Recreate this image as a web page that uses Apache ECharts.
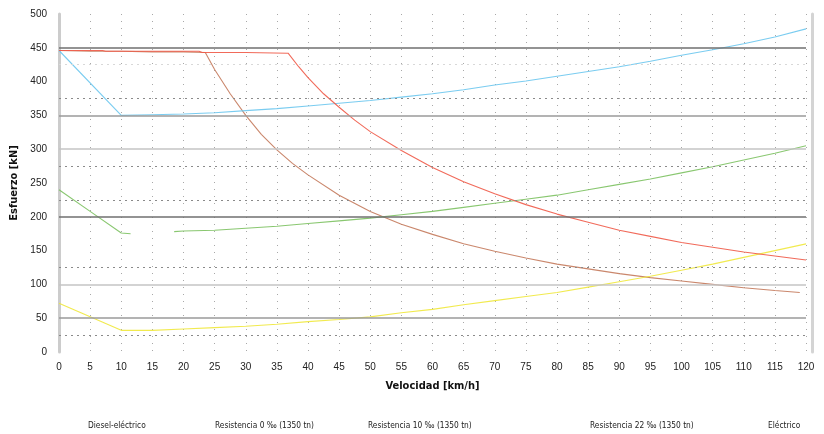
<!DOCTYPE html>
<html>
<head>
<meta charset="utf-8">
<script src="https://cdn.jsdelivr.net/npm/echarts@6/dist/echarts.min.js"></script>
<style>html,body{margin:0;padding:0;background:#fff}#c{width:824px;height:434px}</style>
</head>
<body>
<div id="c"></div>
<script>
// Data: [velocidad km/h, esfuerzo kN]
const seriesNames = ['Diesel-eléctrico', 'Resistencia 0 ‰ (1350 tn)', 'Resistencia 10 ‰ (1350 tn)', 'Resistencia 22 ‰ (1350 tn)', 'Eléctrico'];

const dieselElectrico = [[0,446],[5,445],[10,445],[15,444],[20,444],[23.5,443],[25,418],[27.5,382],[30,350],[32.5,322],[35,299],[37.5,279],[40,262],[45,232],[50,208],[55,189],[60,174],[65,160],[70,149],[75,139],[80,130],[85,123],[90,116],[95,110],[100,105],[105,100],[110,95],[115,91],[119,88]];
const resistencia0 = [[0,72],[5,52],[10,32],[15,32],[20,34],[25,36],[30,38],[35,41],[40,45],[45,48],[50,52],[55,58],[60,63],[65,70],[70,76],[75,82],[80,88],[85,96],[90,104],[95,112],[100,121],[105,130],[110,140],[115,150],[120,160]];
const resistencia10 = [[0,240],[5,208],[10,176],[11.5,175],[15,'-'],[18.5,178],[20,179],[25,180],[30,183],[35,186],[40,190],[45,194],[50,198],[55,203],[60,208],[65,214],[70,220],[75,226],[80,232],[85,240],[90,248],[95,256],[100,265],[105,274],[110,284],[115,294],[120,305]];
const resistencia22 = [[0,446],[10,350],[15,351],[20,352],[25,354],[30,357],[35,360],[40,364],[45,368],[50,372],[55,377],[60,382],[65,388],[70,395],[75,401],[80,408],[85,415],[90,422],[95,430],[100,439],[105,447],[110,456],[115,466],[120,478]];
const electrico = [[0,446],[7,446],[7.5,445],[22.5,445],[23,443],[30,443],[36.8,442],[38.5,422],[40,406],[42.5,382],[45,362],[47.5,343],[50,326],[55,298],[60,273],[65,252],[70,234],[75,218],[80,204],[85,192],[90,180],[95,171],[100,162],[105,155],[110,148],[115,142],[120,136]];

const yTicks = [0,50,100,150,200,250,300,350,400,450,500];
const xTicks = [0,5,10,15,20,25,30,35,40,45,50,55,60,65,70,75,80,85,90,95,100,105,110,115,120];
const solidGrid = [450,350,300,200,100,50];
const dottedGrid = [425,375,275,225,125,25];

const colors = {
  'Diesel-eléctrico': '#c47a5c',
  'Resistencia 0 ‰ (1350 tn)': '#efe83c',
  'Resistencia 10 ‰ (1350 tn)': '#7cc160',
  'Resistencia 22 ‰ (1350 tn)': '#6cc6ee',
  'Eléctrico': '#f05a48'
};
const dataByName = {
  'Diesel-eléctrico': dieselElectrico,
  'Resistencia 0 ‰ (1350 tn)': resistencia0,
  'Resistencia 10 ‰ (1350 tn)': resistencia10,
  'Resistencia 22 ‰ (1350 tn)': resistencia22,
  'Eléctrico': electrico
};

const solidStyles = {450:'#6f6f6f',350:'#9a9a9a',300:'#c4c4c4',200:'#6f6f6f',100:'#c4c4c4',50:'#9a9a9a'};
const gridLines = [];
solidGrid.forEach(v => gridLines.push({yAxis: v, lineStyle: {color: solidStyles[v], width: 1.6, type: 'solid'}}));
dottedGrid.forEach(v => gridLines.push({yAxis: v, lineStyle: {color: v === 425 ? '#d8d8d8' : '#8a8a8a', width: 1.2, type: [2, 4]}}));

const fontNarrow = "'Liberation Sans Narrow', 'DejaVu Sans Condensed', 'Liberation Sans', sans-serif";
const legendLeft = [78, 205, 358, 580, 758];

const chart = echarts.init(document.getElementById('c'), null, {renderer: 'canvas'});
const series = [{
  type: 'line', data: [], silent: true, z: 1,
  markLine: {silent: true, symbol: ['none','none'], label: {show: false}, animation: false, data: gridLines}
}];
seriesNames.forEach(n => series.push({
  name: n, type: 'line', data: dataByName[n], showSymbol: false, symbol: 'none', z: 3,
  connectNulls: false,
  lineStyle: {color: colors[n], width: 1.1, opacity: 0.9},
  itemStyle: {color: colors[n]}
}));
// Eléctrico drawn over diesel on the shared flat part
series.sort((a, b) => (a.name === 'Eléctrico') - (b.name === 'Eléctrico'));

chart.setOption({
  animation: false,
  grid: {left: 59, right: 18, top: 14, bottom: 82, containLabel: false},
  legend: seriesNames.map((n, i) => ({
    data: [n], left: legendLeft[i], top: 417, itemWidth: 0, itemHeight: 0, icon: 'rect',
    selectedMode: false,
    textStyle: {fontSize: 8.3, color: '#222', fontFamily: fontNarrow}
  })),
  xAxis: {
    type: 'value', min: 0, max: 120, interval: 5,
    name: 'Velocidad [km/h]', nameLocation: 'middle', nameGap: 29,
    nameTextStyle: {fontWeight: 'bold', fontSize: 11, color: '#111', fontFamily: fontNarrow},
    axisLine: {show: false}, axisTick: {show: false},
    axisLabel: {margin: 10, fontSize: 10, color: '#222', fontFamily: "'Liberation Sans', sans-serif"},
    splitLine: {show: true, lineStyle: {color: '#a8a8a8', width: 1, type: [1, 6]}}
  },
  yAxis: [{
    type: 'value', min: 0, max: 500, interval: 50,
    name: 'Esfuerzo [kN]', nameLocation: 'middle', nameGap: 36, nameRotate: 90,
    nameTextStyle: {fontWeight: 'bold', fontSize: 11, color: '#111', fontFamily: fontNarrow},
    axisLine: {show: true, lineStyle: {color: '#cccccc', width: 3}},
    axisTick: {show: false},
    axisLabel: {margin: 12, fontSize: 10, color: '#222', fontFamily: "'Liberation Sans', sans-serif"},
    splitLine: {show: false}
  }, {
    type: 'value', min: 0, max: 500, interval: 50, position: 'right', offset: 6,
    axisLine: {show: true, lineStyle: {color: '#d4d4d4', width: 3}},
    axisTick: {show: false}, axisLabel: {show: false}, splitLine: {show: false}
  }],
  series: series
});
</script>
</body>
</html>
